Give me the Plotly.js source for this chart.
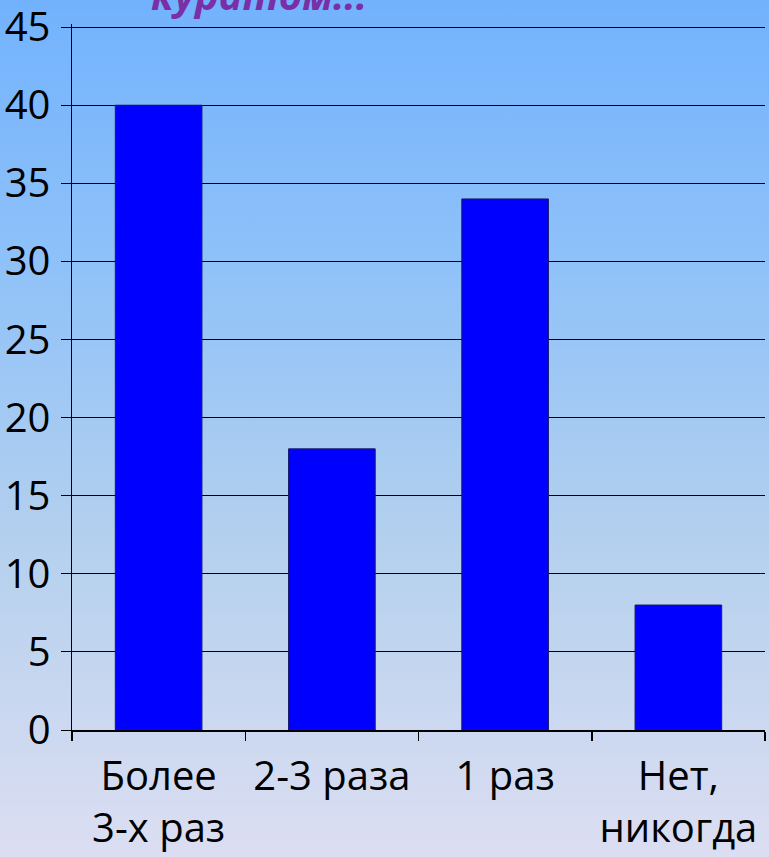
<!DOCTYPE html>
<html>
<head>
<meta charset="utf-8">
<script src="https://cdn.plot.ly/plotly-3.0.1.min.js"></script>
<style>
html,body{margin:0;padding:0;}
#chart{width:769px;height:857px;background:linear-gradient(to bottom,#72b2fd 0%,#8ec1f9 30%,#b6d1ee 65%,#dcdef2 100%);}
</style>
</head>
<body>
<div id="chart"></div>
<script>
const categories = ["Более<br>3-х раз", "2-3 раза", "1 раз", "Нет,<br>никогда"];
const values = [40, 18, 34, 8];
const yTicks = [0, 5, 10, 15, 20, 25, 30, 35, 40, 45];
const titleText = "куратом...";

const data = [{
  type: "bar",
  x: categories,
  y: values,
  marker: {color: "#0000ff", line: {color: "#1a1a66", width: 1}},
  hoverinfo: "none"
}];

const font = {family: "Open Sans, Noto Sans, sans-serif", size: 40, color: "#000000"};

const layout = {
  width: 769, height: 857,
  margin: {l: 72, r: 4, t: 24, b: 127, pad: 0},
  paper_bgcolor: "rgba(0,0,0,0)",
  plot_bgcolor: "rgba(0,0,0,0)",
  showlegend: false,
  bargap: 0.5,
  font: font,
  xaxis: {
    type: "category",
    tickson: "boundaries",
    ticks: "outside", ticklen: 9, tickcolor: "#000", tickwidth: 1.5,
    showline: true, linecolor: "#000", linewidth: 1.5,
    showgrid: false,
    tickfont: font,
    ticklabelstandoff: 10,
    ticklabeloverflow: "allow",
    fixedrange: true
  },
  yaxis: {
    range: [0, 45.2],
    tickmode: "array",
    tickvals: yTicks,
    ticktext: yTicks.map(String),
    ticks: "outside", ticklen: 10, tickcolor: "#000", tickwidth: 1,
    showline: true, linecolor: "#000", linewidth: 1.5,
    showgrid: true, gridcolor: "#000", gridwidth: 1,
    zeroline: false,
    tickfont: font,
    ticklabelstandoff: 2,
    ticklabeloverflow: "allow",
    fixedrange: true
  },
  annotations: [{
    text: "<b><i>" + titleText + "</i></b>",
    xref: "paper", yref: "paper",
    x: 0.27, y: 1.0,
    xanchor: "center", yanchor: "bottom",
    showarrow: false,
    font: {family: "Open Sans, sans-serif", size: 40, color: "#7a2fa6"}
  }]
};

Plotly.newPlot("chart", data, layout, {displayModeBar: false, staticPlot: true});
</script>
</body>
</html>
